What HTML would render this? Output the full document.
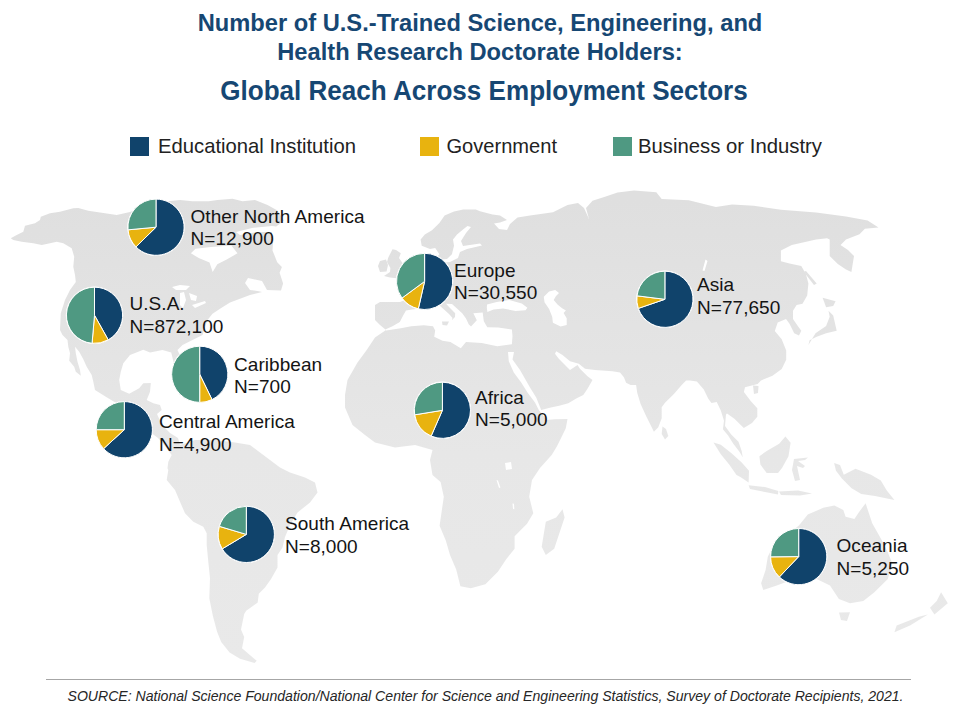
<!DOCTYPE html>
<html><head><meta charset="utf-8"><style>
html,body{margin:0;padding:0;background:#fff;width:960px;height:720px;overflow:hidden}
svg{display:block}
.t{font-family:"Liberation Sans",sans-serif;font-weight:bold;fill:#164773}
.lab text{font-family:"Liberation Sans",sans-serif;font-size:19px;letter-spacing:0.05px;fill:#141414}
.leg{font-family:"Liberation Sans",sans-serif;font-size:21px;fill:#222}
.src{font-family:"Liberation Sans",sans-serif;font-size:14.8px;font-style:italic;fill:#262626}
</style></head><body>
<svg width="960" height="720" viewBox="0 0 960 720">
<defs><linearGradient id="lg" gradientUnits="userSpaceOnUse" x1="0" y1="200" x2="0" y2="660"><stop offset="0" stop-color="#dfdfdf"/><stop offset="0.55" stop-color="#e7e7e7"/><stop offset="1" stop-color="#e9e9e9"/></linearGradient></defs><g fill="url(#lg)"><path d="M10.8,238.3 L16.7,235.0 L23.3,231.7 L25.0,225.8 L35.0,223.3 L40.0,220.0 L40.8,216.7 L50.0,213.3 L60.0,211.7 L73.3,208.3 L78.3,208.0 L88.3,210.8 L100.0,212.5 L116.7,215.0 L130.0,212.0 L145.0,206.0 L160.0,202.0 L180.0,200.0 L192.5,201.2 L208.8,201.2 L217.5,200.0 L232.5,198.8 L242.5,201.2 L255.0,200.0 L267.5,205.0 L277.5,210.5 L283.8,220.5 L279.5,224.0 L273.0,229.0 L271.5,234.0 L273.3,239.3 L272.5,250.4 L277.2,262.2 L281.9,266.9 L279.6,272.8 L283.1,283.4 L281.0,290.5 L267.0,290.0 L262.0,281.0 L248.0,278.0 L245.0,283.0 L250.0,290.0 L258.8,291.2 L262.0,292.0 L250.0,295.0 L240.0,298.8 L230.0,302.5 L220.0,308.8 L212.5,313.8 L207.5,320.0 L205.0,327.5 L202.5,335.0 L192.5,340.0 L182.5,345.0 L177.5,350.0 L182.0,360.0 L180.0,372.0 L176.0,372.0 L171.2,352.5 L162.5,350.0 L150.0,352.5 L143.3,349.8 L130.0,355.0 L123.3,363.3 L120.8,371.7 L119.2,380.0 L120.8,390.0 L129.2,393.8 L139.2,388.3 L143.3,383.3 L150.8,383.0 L150.0,391.7 L146.7,400.0 L153.3,403.3 L160.0,405.0 L161.7,410.0 L157.0,414.0 L162.0,425.0 L170.0,433.0 L178.0,438.0 L180.0,445.0 L195.0,440.0 L215.0,440.0 L235.0,442.5 L250.0,445.0 L260.0,452.5 L270.0,460.0 L280.0,467.5 L290.0,472.5 L305.0,477.5 L315.0,482.5 L317.5,492.5 L310.0,502.5 L297.5,512.5 L290.0,525.0 L285.0,537.0 L282.5,547.5 L277.5,555.0 L277.5,567.5 L271.2,578.8 L265.0,587.5 L258.8,593.8 L257.7,602.5 L246.2,610.8 L244.2,614.0 L241.0,629.6 L244.2,636.9 L242.0,648.3 L256.7,660.8 L254.6,662.9 L240.0,658.8 L229.6,652.5 L221.2,642.0 L217.1,631.7 L212.9,616.0 L209.3,598.3 L210.0,578.3 L208.3,561.7 L206.7,545.0 L206.7,533.3 L203.3,526.7 L193.3,521.7 L185.0,513.3 L180.0,501.7 L175.0,490.0 L166.7,480.0 L168.3,470.0 L167.5,468.3 L168.3,461.7 L171.7,455.0 L165.0,446.0 L158.0,438.0 L150.0,432.0 L126.0,430.0 L116.2,403.0 L105.8,396.7 L95.0,390.0 L93.3,381.7 L91.7,375.0 L86.7,366.7 L83.3,359.2 L79.2,351.7 L75.0,346.7 L75.8,353.3 L77.5,361.7 L80.0,370.0 L80.8,375.8 L75.8,371.7 L74.2,366.7 L69.2,360.8 L70.0,353.3 L68.3,346.7 L67.5,340.0 L62.5,335.0 L60.0,330.0 L60.8,313.3 L65.0,300.0 L70.0,290.0 L75.8,282.0 L75.0,275.0 L73.3,266.7 L74.2,256.7 L71.7,248.3 L63.3,243.3 L56.7,241.7 L50.0,243.3 L41.7,245.0 L33.3,243.3 L21.7,241.7 L13.3,240.0Z"/><path d="M386.0,330.0 L375.0,337.5 L366.7,350.0 L357.5,362.5 L347.5,380.0 L345.0,395.0 L345.0,407.5 L352.5,425.0 L365.0,435.0 L375.0,442.5 L395.0,447.5 L415.0,445.0 L432.5,450.0 L430.0,460.0 L432.5,475.0 L440.6,482.0 L443.8,496.7 L441.7,511.2 L439.6,525.8 L445.8,540.4 L450.0,555.0 L456.2,569.6 L460.4,586.2 L470.8,588.3 L485.4,584.2 L497.9,571.7 L506.2,559.2 L514.6,548.8 L514.6,536.2 L527.0,523.8 L533.3,513.3 L529.2,496.7 L532.0,480.0 L540.0,468.0 L551.7,455.0 L556.7,446.7 L561.7,436.7 L565.8,428.3 L567.5,419.0 L555.0,419.2 L546.7,420.0 L538.8,410.0 L535.0,402.5 L527.5,392.5 L521.2,382.5 L513.8,372.5 L508.8,361.2 L508.0,352.0 L514.0,352.0 L512.5,359.4 L520.0,370.0 L525.0,378.8 L530.0,387.5 L536.2,397.5 L541.2,410.0 L550.8,407.5 L559.2,405.8 L568.3,403.3 L576.7,398.3 L583.3,395.0 L587.5,388.8 L592.5,380.0 L587.5,376.2 L580.0,368.8 L577.5,365.0 L570.0,370.0 L565.0,365.0 L558.8,358.8 L555.0,353.8 L556.2,351.2 L562.5,355.0 L570.0,361.2 L578.8,363.8 L585.0,368.8 L595.0,370.0 L612.5,371.2 L620.0,372.5 L623.9,377.2 L626.1,382.8 L630.6,385.0 L636.1,385.0 L637.2,392.8 L640.6,403.9 L646.1,416.1 L651.7,427.2 L653.9,431.7 L658.3,427.2 L661.7,418.3 L661.7,407.2 L665.0,402.8 L673.9,393.9 L681.7,385.0 L686.1,380.6 L690.0,380.4 L696.9,381.6 L703.8,389.6 L708.3,398.8 L711.5,403.1 L716.7,402.0 L720.8,410.4 L724.0,420.8 L722.9,429.2 L728.1,435.4 L733.3,443.8 L739.6,452.1 L742.7,457.3 L741.7,451.0 L738.5,441.7 L731.2,434.4 L725.0,426.0 L726.0,414.6 L727.0,413.5 L734.4,418.8 L743.8,428.1 L752.0,422.9 L757.3,416.7 L757.3,408.3 L750.7,401.0 L743.9,391.9 L745.0,387.3 L757.6,383.9 L761.0,380.4 L772.5,375.8 L781.7,369.0 L786.2,359.8 L786.2,350.6 L781.7,339.2 L774.8,331.0 L777.7,322.6 L786.0,319.0 L789.5,323.8 L794.2,333.2 L799.0,335.6 L801.3,330.8 L797.8,326.1 L793.0,319.0 L793.0,310.8 L796.6,304.9 L802.5,303.7 L807.2,295.4 L808.4,283.6 L806.0,274.2 L801.3,265.9 L789.5,263.5 L780.9,261.3 L780.9,250.5 L791.8,245.0 L816.1,239.6 L827.0,238.3 L829.7,239.6 L829.7,255.9 L837.8,264.0 L846.0,269.4 L851.4,272.1 L854.0,255.9 L848.0,250.0 L840.5,245.0 L846.0,239.6 L859.5,234.2 L864.9,228.8 L878.5,227.4 L867.6,220.6 L846.0,216.6 L816.1,212.5 L781.0,209.8 L753.8,205.7 L732.1,204.4 L715.9,207.1 L688.8,200.3 L661.7,199.0 L656.3,192.2 L634.0,190.4 L617.5,192.5 L605.0,196.7 L592.5,200.8 L586.0,208.0 L589.0,219.0 L584.0,208.0 L578.0,203.0 L567.5,205.0 L553.0,212.3 L530.0,215.4 L517.5,217.5 L510.0,224.0 L507.0,230.0 L499.0,229.0 L494.0,223.5 L500.0,222.5 L507.0,220.0 L500.0,215.5 L492.5,214.4 L480.0,211.2 L475.8,209.4 L463.3,209.4 L454.0,211.5 L444.6,215.6 L439.4,222.9 L432.0,230.2 L424.8,234.4 L420.6,239.6 L421.7,245.8 L430.0,249.0 L435.2,248.0 L439.4,254.2 L436.0,258.0 L432.0,260.0 L428.0,268.0 L415.0,275.0 L400.0,285.0 L405.0,300.0 L400.0,302.0 L380.0,302.0 L375.0,305.0 L375.0,320.0 L380.0,325.0Z"/><path d="M753.0,385.5 L758.5,386.0 L758.0,393.0 L754.0,394.0Z"/><path d="M392.5,249.2 L396.0,250.0 L400.8,253.3 L399.0,258.0 L403.0,263.8 L407.0,274.0 L403.0,277.0 L396.7,278.3 L390.0,277.5 L384.0,276.0 L390.0,272.0 L390.4,268.0 L387.0,262.0 L388.3,257.5Z"/><path d="M380.0,261.0 L386.0,259.6 L388.0,265.0 L386.5,271.5 L380.0,272.0 L378.0,266.0Z"/><path d="M562.5,509.2 L564.6,517.5 L554.2,548.8 L545.8,555.0 L541.7,546.7 L545.8,521.7 L556.2,517.5Z"/><path d="M662.5,426.5 L666.0,429.0 L668.3,436.0 L665.0,439.4 L661.7,434.0Z"/><path d="M713.5,442.5 L720.8,444.8 L731.2,453.1 L741.7,462.5 L749.0,470.8 L748.6,482.5 L740.4,477.1 L736.5,475.0 L729.2,464.6 L720.8,454.2Z"/><path d="M748.6,485.2 L765.0,487.0 L778.3,491.0 L778.0,494.5 L765.0,492.0 L750.0,489.0Z"/><path d="M759.4,456.2 L766.7,451.0 L779.2,443.8 L785.4,436.5 L790.6,442.7 L788.5,456.2 L782.0,468.0 L778.0,473.0 L766.7,473.0 L760.4,464.6Z"/><path d="M794.0,459.0 L808.0,457.5 L805.0,460.0 L798.0,461.0 L805.0,466.0 L803.0,468.0 L797.0,466.0 L800.0,480.0 L795.0,481.0 L792.0,470.0Z"/><path d="M834.1,463.0 L840.0,465.0 L843.8,474.7 L855.5,468.8 L871.0,474.7 L880.8,480.5 L886.6,490.2 L894.4,500.0 L875.0,496.0 L861.3,494.0 L851.6,488.2 L841.9,478.5 L836.0,470.8Z"/><path d="M798.9,525.6 L807.8,514.4 L823.3,507.8 L834.4,505.6 L843.3,510.0 L845.6,516.7 L854.4,518.9 L858.9,512.2 L865.6,503.3 L872.2,523.3 L881.1,538.9 L887.8,552.2 L892.2,563.3 L887.8,578.9 L874.4,592.2 L863.3,601.1 L850.0,603.3 L838.9,598.9 L830.0,585.6 L816.7,578.9 L794.4,578.9 L776.7,585.6 L763.3,590.0 L761.1,583.3 L765.6,570.0 L767.8,556.7 L774.4,543.3 L787.8,534.4Z"/><path d="M779.0,491.5 L798.0,490.5 L812.0,493.5 L800.0,495.5 L781.0,495.0Z"/><path d="M839.0,612.5 L850.0,612.2 L847.0,621.0 L841.0,620.0Z"/><path d="M941.1,592.2 L947.8,603.3 L934.4,614.4 L930.0,607.8 L936.7,601.1Z"/><path d="M927.8,614.4 L910.0,625.6 L894.4,632.2 L896.7,625.6 L918.9,616.7Z"/><path d="M828.5,310.8 L833.2,315.5 L835.6,326.1 L836.7,330.8 L826.1,333.2 L816.7,336.7 L809.6,340.3 L808.4,345.0 L815.5,333.2 L826.1,326.1 L829.7,316.7Z"/><path d="M803.7,271.8 L806.0,271.0 L816.7,283.6 L814.0,285.0Z"/><path d="M822.6,297.8 L835.6,301.3 L833.2,306.0 L826.1,307.2Z"/></g>
<g fill="#ffffff"><path d="M190.9,253.3 L195.5,248.7 L211.0,247.0 L231.3,245.5 L237.5,253.3 L226.7,259.5 L217.3,264.2 L212.7,272.0 L209.5,262.6 L198.7,258.0Z"/><path d="M236.0,232.0 L252.0,228.0 L272.0,226.0 L276.0,226.5 L274.0,232.0 L258.0,232.0 L240.0,235.0Z"/><path d="M463.3,229.2 L467.5,226.0 L471.0,227.0 L466.0,233.0 L461.0,241.0 L463.0,246.0 L480.0,243.5 L482.0,245.5 L467.0,249.0 L460.0,252.0 L458.0,258.0 L450.0,262.0 L440.0,263.0 L436.0,260.0 L447.0,259.0 L451.9,254.2 L454.0,245.8 L453.0,239.6 L457.0,234.4Z"/><path d="M385.2,329.4 L392.5,326.2 L399.8,322.0 L403.0,315.8 L406.0,310.6 L412.0,309.5 L420.0,308.5 L430.0,309.6 L436.0,306.0 L439.5,305.6 L444.0,309.5 L449.0,314.0 L452.5,318.0 L451.8,320.2 L455.0,317.0 L455.2,313.2 L450.0,308.0 L446.0,303.8 L452.0,304.0 L462.2,313.2 L466.0,318.5 L468.7,324.2 L471.0,326.6 L476.8,320.2 L473.3,313.2 L482.7,312.6 L483.8,321.3 L487.3,327.2 L498.3,327.5 L505.0,328.5 L511.9,329.6 L512.5,336.0 L511.9,344.2 L497.3,346.2 L481.7,343.0 L466.0,342.0 L460.8,348.3 L450.4,342.0 L442.5,340.8 L434.2,336.7 L435.2,330.4 L433.0,326.2 L423.8,325.2 L411.2,326.2 L400.8,328.3 L386.2,330.4Z"/><path d="M172.0,287.0 L180.0,285.0 L190.0,286.0 L186.0,290.0 L176.0,290.0Z"/><path d="M180.0,293.0 L184.0,292.0 L186.0,300.0 L183.0,308.0 L180.0,305.0Z"/><path d="M189.0,293.0 L197.0,296.0 L196.0,301.0 L191.0,300.0Z"/><path d="M192.0,305.0 L205.0,301.0 L206.0,303.0 L195.0,308.0Z"/><path d="M505.0,463.0 L511.0,462.0 L512.0,469.0 L506.0,470.0Z"/><path d="M705.5,259.5 L707.5,261.0 L704.5,271.0 L702.5,270.5Z"/><path d="M496.5,480.0 L498.0,480.5 L500.4,487.6 L499.0,488.0Z"/><path d="M512.5,503.6 L514.0,503.8 L514.3,509.2 L513.0,509.0Z"/><path d="M487.0,304.6 L496.8,302.1 L509.2,300.0 L521.8,303.5 L527.4,307.8 L525.5,310.2 L515.5,310.9 L503.0,308.4 L493.6,309.6 L487.4,312.1 L486.8,307.8Z"/><path d="M543.8,296.8 L549.1,291.5 L555.2,290.0 L559.0,293.0 L556.0,296.0 L553.7,299.9 L557.5,304.5 L562.1,308.3 L565.9,310.6 L563.6,312.9 L566.7,318.2 L566.7,325.1 L560.6,326.6 L552.9,322.8 L552.2,316.7 L549.1,309.0 L544.5,302.2Z"/></g><g fill="url(#lg)"><path d="M442.0,321.5 L449.0,321.5 L447.0,325.5 L442.5,325.0Z"/></g>
<text class="t" x="480" y="30.7" font-size="23.7" text-anchor="middle">Number of U.S.-Trained Science, Engineering, and</text>
<text class="t" x="480" y="59.6" font-size="23.7" text-anchor="middle">Health Research Doctorate Holders:</text>
<text class="t" x="484" y="99.9" font-size="27.8" text-anchor="middle" textLength="527.5" lengthAdjust="spacingAndGlyphs">Global Reach Across Employment Sectors</text>
<rect x="130" y="137" width="19" height="19" fill="#10436b"/>
<text class="leg" x="158" y="153" textLength="198" lengthAdjust="spacingAndGlyphs">Educational Institution</text>
<rect x="420" y="137" width="19" height="19" fill="#e8b30f"/>
<text class="leg" x="446.5" y="153" textLength="110.5" lengthAdjust="spacingAndGlyphs">Government</text>
<rect x="613" y="137" width="19" height="19" fill="#4f9982"/>
<text class="leg" x="638" y="153" textLength="184" lengthAdjust="spacingAndGlyphs">Business or Industry</text>
<circle cx="156" cy="227.2" r="28.700000000000003" fill="#ffffff"/><path d="M156.00,227.20 L156.00,199.10 A28.1,28.1 0 1 1 135.96,246.90 Z" fill="#10436b" stroke="#ffffff" stroke-width="1" stroke-linejoin="round"/><path d="M156.00,227.20 L135.96,246.90 A28.1,28.1 0 0 1 128.02,229.84 Z" fill="#e8b30f" stroke="#ffffff" stroke-width="1" stroke-linejoin="round"/><path d="M156.00,227.20 L128.02,229.84 A28.1,28.1 0 0 1 156.00,199.10 Z" fill="#4f9982" stroke="#ffffff" stroke-width="1" stroke-linejoin="round"/><circle cx="94.5" cy="315.3" r="28.700000000000003" fill="#ffffff"/><path d="M94.50,315.30 L94.50,287.20 A28.1,28.1 0 0 1 108.21,339.83 Z" fill="#10436b" stroke="#ffffff" stroke-width="1" stroke-linejoin="round"/><path d="M94.50,315.30 L108.21,339.83 A28.1,28.1 0 0 1 92.05,343.29 Z" fill="#e8b30f" stroke="#ffffff" stroke-width="1" stroke-linejoin="round"/><path d="M94.50,315.30 L92.05,343.29 A28.1,28.1 0 0 1 94.50,287.20 Z" fill="#4f9982" stroke="#ffffff" stroke-width="1" stroke-linejoin="round"/><circle cx="199.7" cy="374.3" r="28.700000000000003" fill="#ffffff"/><path d="M199.70,374.30 L199.70,346.20 A28.1,28.1 0 0 1 212.02,399.56 Z" fill="#10436b" stroke="#ffffff" stroke-width="1" stroke-linejoin="round"/><path d="M199.70,374.30 L212.02,399.56 A28.1,28.1 0 0 1 199.70,402.40 Z" fill="#e8b30f" stroke="#ffffff" stroke-width="1" stroke-linejoin="round"/><path d="M199.70,374.30 L199.70,402.40 A28.1,28.1 0 0 1 199.70,346.20 Z" fill="#4f9982" stroke="#ffffff" stroke-width="1" stroke-linejoin="round"/><circle cx="124.3" cy="429.7" r="28.700000000000003" fill="#ffffff"/><path d="M124.30,429.70 L124.30,401.60 A28.1,28.1 0 1 1 103.58,448.68 Z" fill="#10436b" stroke="#ffffff" stroke-width="1" stroke-linejoin="round"/><path d="M124.30,429.70 L103.58,448.68 A28.1,28.1 0 0 1 96.20,429.70 Z" fill="#e8b30f" stroke="#ffffff" stroke-width="1" stroke-linejoin="round"/><path d="M124.30,429.70 L96.20,429.70 A28.1,28.1 0 0 1 124.30,401.60 Z" fill="#4f9982" stroke="#ffffff" stroke-width="1" stroke-linejoin="round"/><circle cx="246.3" cy="534.4" r="28.700000000000003" fill="#ffffff"/><path d="M246.30,534.40 L246.30,506.30 A28.1,28.1 0 1 1 222.21,548.87 Z" fill="#10436b" stroke="#ffffff" stroke-width="1" stroke-linejoin="round"/><path d="M246.30,534.40 L222.21,548.87 A28.1,28.1 0 0 1 219.37,526.37 Z" fill="#e8b30f" stroke="#ffffff" stroke-width="1" stroke-linejoin="round"/><path d="M246.30,534.40 L219.37,526.37 A28.1,28.1 0 0 1 246.30,506.30 Z" fill="#4f9982" stroke="#ffffff" stroke-width="1" stroke-linejoin="round"/><circle cx="424.6" cy="281.4" r="28.700000000000003" fill="#ffffff"/><path d="M424.60,281.40 L424.60,253.30 A28.1,28.1 0 1 1 418.33,308.79 Z" fill="#10436b" stroke="#ffffff" stroke-width="1" stroke-linejoin="round"/><path d="M424.60,281.40 L418.33,308.79 A28.1,28.1 0 0 1 401.98,298.08 Z" fill="#e8b30f" stroke="#ffffff" stroke-width="1" stroke-linejoin="round"/><path d="M424.60,281.40 L401.98,298.08 A28.1,28.1 0 0 1 424.60,253.30 Z" fill="#4f9982" stroke="#ffffff" stroke-width="1" stroke-linejoin="round"/><circle cx="442.4" cy="410.3" r="28.700000000000003" fill="#ffffff"/><path d="M442.40,410.30 L442.40,382.20 A28.1,28.1 0 1 1 431.15,436.05 Z" fill="#10436b" stroke="#ffffff" stroke-width="1" stroke-linejoin="round"/><path d="M442.40,410.30 L431.15,436.05 A28.1,28.1 0 0 1 414.67,414.84 Z" fill="#e8b30f" stroke="#ffffff" stroke-width="1" stroke-linejoin="round"/><path d="M442.40,410.30 L414.67,414.84 A28.1,28.1 0 0 1 442.40,382.20 Z" fill="#4f9982" stroke="#ffffff" stroke-width="1" stroke-linejoin="round"/><circle cx="664.9" cy="299.3" r="28.700000000000003" fill="#ffffff"/><path d="M664.90,299.30 L664.90,271.20 A28.1,28.1 0 1 1 638.32,308.40 Z" fill="#10436b" stroke="#ffffff" stroke-width="1" stroke-linejoin="round"/><path d="M664.90,299.30 L638.32,308.40 A28.1,28.1 0 0 1 637.02,295.83 Z" fill="#e8b30f" stroke="#ffffff" stroke-width="1" stroke-linejoin="round"/><path d="M664.90,299.30 L637.02,295.83 A28.1,28.1 0 0 1 664.90,271.20 Z" fill="#4f9982" stroke="#ffffff" stroke-width="1" stroke-linejoin="round"/><circle cx="798.7" cy="556.6" r="28.700000000000003" fill="#ffffff"/><path d="M798.70,556.60 L798.70,528.50 A28.1,28.1 0 1 1 779.36,576.98 Z" fill="#10436b" stroke="#ffffff" stroke-width="1" stroke-linejoin="round"/><path d="M798.70,556.60 L779.36,576.98 A28.1,28.1 0 0 1 770.60,556.85 Z" fill="#e8b30f" stroke="#ffffff" stroke-width="1" stroke-linejoin="round"/><path d="M798.70,556.60 L770.60,556.85 A28.1,28.1 0 0 1 798.70,528.50 Z" fill="#4f9982" stroke="#ffffff" stroke-width="1" stroke-linejoin="round"/>
<g class="lab"><text x="190.5" y="222.8">Other North America</text><text x="190.5" y="245">N=12,900</text><text x="129.5" y="309.8">U.S.A.</text><text x="129.5" y="332.6">N=872,100</text><text x="234" y="370.8">Caribbean</text><text x="234" y="393.3">N=700</text><text x="159" y="427.7">Central America</text><text x="159" y="450.6">N=4,900</text><text x="285" y="529.9">South America</text><text x="285" y="552.8">N=8,000</text><text x="454" y="276.9">Europe</text><text x="454" y="299.4">N=30,550</text><text x="475" y="403.5">Africa</text><text x="475" y="426.25">N=5,000</text><text x="697" y="291.3">Asia</text><text x="697" y="314.25">N=77,650</text><text x="836.5" y="551.7">Oceania</text><text x="836.5" y="574.7">N=5,250</text></g>
<rect x="46" y="679" width="865" height="1" fill="#a6a6a6"/>
<text class="src" x="67.5" y="700.75" textLength="836" lengthAdjust="spacingAndGlyphs">SOURCE: National Science Foundation/National Center for Science and Engineering Statistics, Survey of Doctorate Recipients, 2021.</text>
</svg>
</body></html>
